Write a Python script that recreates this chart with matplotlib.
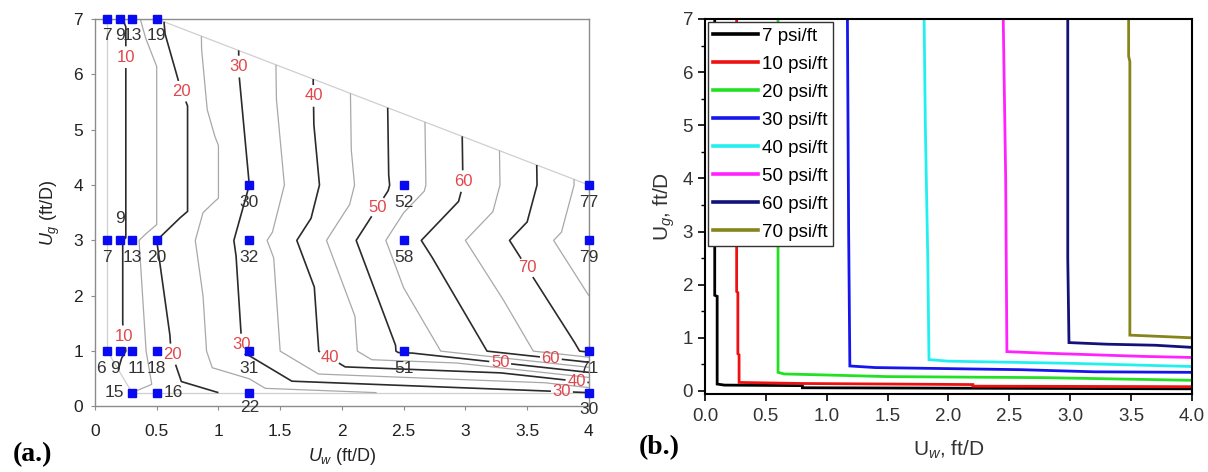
import numpy as np
import matplotlib
matplotlib.use("Agg")
import matplotlib.pyplot as plt
import matplotlib.tri as mtri
from matplotlib.ticker import MultipleLocator, FormatStrFormatter

plt.rcParams['font.family'] = ['Liberation Sans', 'DejaVu Sans']
plt.rcParams['mathtext.fontset'] = 'custom'
plt.rcParams['mathtext.rm'] = 'Liberation Sans'
plt.rcParams['mathtext.it'] = 'Liberation Sans:italic'

# ---------------- (a) measured pressure gradient, psi/ft ----------------
uw_pts = [0.1, 0.2, 0.3, 0.5,
          1.25, 2.5, 4.0,
          0.1, 0.2, 0.3, 0.5, 1.25, 2.5, 4.0,
          0.1, 0.2, 0.3, 0.5, 1.25, 2.5, 4.0,
          0.3, 0.5, 1.25, 4.0]
ug_pts = [7, 7, 7, 7,
          4, 4, 4,
          3, 3, 3, 3, 3, 3, 3,
          1, 1, 1, 1, 1, 1, 1,
          0.25, 0.25, 0.25, 0.25]
dp_pts = [7, 9, 13, 19,
          30, 52, 77,
          7, 9, 13, 20, 32, 58, 79,
          6, 9, 11, 18, 31, 51, 71,
          15, 16, 22, 30]

major_levels = [10, 20, 30, 40, 50, 60, 70]
minor_levels = [15, 25, 35, 45, 55, 65, 75]

# ---------------- (b) iso-gradient curves ----------------
grad_names = ['7 psi/ft', '10 psi/ft', '20 psi/ft', '30 psi/ft',
              '40 psi/ft', '50 psi/ft', '60 psi/ft', '70 psi/ft']
uw_7 = [0.08, 0.08, 0.10, 0.10, 0.16, 0.80, 0.80, 4.00]
ug_7 = [7.00, 1.80, 1.78, 0.13, 0.11, 0.10, 0.06, 0.04]
uw_10 = [0.26, 0.26, 0.27, 0.27, 0.28, 0.28, 0.80, 2.20, 2.20, 4.00]
ug_10 = [7.00, 1.87, 1.85, 0.70, 0.68, 0.16, 0.14, 0.12, 0.09, 0.08]
uw_20 = [0.60, 0.60, 0.65, 1.00, 1.50, 2.80, 4.00]
ug_20 = [7.00, 0.35, 0.32, 0.30, 0.27, 0.25, 0.20]
uw_30 = [1.17, 1.18, 1.19, 1.40, 2.00, 2.60, 3.20, 4.00]
ug_30 = [7.00, 3.00, 0.47, 0.44, 0.42, 0.40, 0.36, 0.35]
uw_40 = [1.80, 1.81, 1.83, 1.84, 2.00, 2.50, 3.00, 3.50, 4.00]
ug_40 = [7.00, 5.00, 2.50, 0.59, 0.56, 0.54, 0.52, 0.49, 0.46]
uw_50 = [2.45, 2.46, 2.47, 2.48, 2.80, 3.20, 3.60, 4.00]
ug_50 = [7.00, 5.50, 4.00, 0.74, 0.71, 0.68, 0.65, 0.63]
uw_60 = [2.98, 2.98, 2.99, 3.30, 3.70, 4.00]
ug_60 = [7.00, 2.50, 0.91, 0.88, 0.86, 0.82]
uw_70 = [3.48, 3.48, 3.49, 3.49, 3.70, 4.00]
ug_70 = [7.00, 6.30, 6.20, 1.05, 1.03, 1.00]

curves_uw = [uw_7, uw_10, uw_20, uw_30, uw_40, uw_50, uw_60, uw_70]
curves_ug = [ug_7, ug_10, ug_20, ug_30, ug_40, ug_50, ug_60, ug_70]
curve_colors = ['#000000', '#ee1111', '#22e022', '#1515ee',
                '#22f0f0', '#ff22ff', '#12127a', '#85851a']

fig = plt.figure(figsize=(12.08, 4.72), dpi=100)

# ================= panel (a) =================
ax = fig.add_axes([0.0786, 0.1388, 0.4089, 0.8210])
tri = mtri.Triangulation(uw_pts, ug_pts)

# outline of the measured region
xs = np.asarray(uw_pts)
ys = np.asarray(ug_pts)
for t, nb in zip(tri.triangles, tri.neighbors):
    for k in range(3):
        if nb[k] == -1:
            i, j = t[k], t[(k + 1) % 3]
            ax.plot([xs[i], xs[j]], [ys[i], ys[j]], color='#cfcfcf', lw=0.9,
                    zorder=1)

ax.tricontour(tri, dp_pts, levels=minor_levels, colors='#a8a8a8',
              linewidths=0.9, zorder=2)
cs = ax.tricontour(tri, dp_pts, levels=major_levels, colors='#2b2b2b',
                   linewidths=1.2, zorder=3)

label_spots = [(0.265, 6.31), (0.70, 5.69), (1.154, 6.14), (1.757, 5.61),
               (2.29, 3.60), (2.974, 4.07), (3.474, 2.47),
               (0.243, 1.27), (0.635, 0.95), (1.195, 1.12), (1.89, 0.85),
               (3.28, 0.76), (3.69, 0.84), (3.90, 0.47), (3.78, 0.19)]
labels = ax.clabel(cs, manual=label_spots, fmt='%d', colors='#e0474c',
                   fontsize=12, inline=True, inline_spacing=2)
for t in labels:
    t.set_rotation(0)

ax.plot(uw_pts, ug_pts, 's', color='#0a0af0', ms=6, clip_on=False, zorder=6)

# label offsets in pixels (dx, dy); default is centred below the marker
offsets = {i: (0, -17) for i in range(len(dp_pts))}
offsets[8] = (0, 22)
offsets[14] = (-6, -17)
offsets[15] = (-5, -17)
offsets[16] = (5, -17)
offsets[21] = (-18, 0)
offsets[22] = (17, 0)
offsets[23] = (0, -15)
offsets[24] = (0, -17)
for i, (x, y, v) in enumerate(zip(uw_pts, ug_pts, dp_pts)):
    dx, dy = offsets[i]
    ax.annotate(str(v), (x, y), xytext=(dx * 0.72, dy * 0.72),
                textcoords='offset points', ha='center', va='center',
                fontsize=12.5, color='#333333', zorder=7,
                annotation_clip=False)

ax.set_xlim(0, 4)
ax.set_ylim(0, 7)
ax.set_xticks([0, 0.5, 1, 1.5, 2, 2.5, 3, 3.5, 4])
ax.set_xticklabels(['0', '0.5', '1', '1.5', '2', '2.5', '3', '3.5', '4'])
ax.set_yticks(range(8))
for s in ax.spines.values():
    s.set_color('#8c8c8c')
    s.set_linewidth(1.0)
ax.tick_params(direction='out', length=3, color='#8c8c8c', labelsize=12.5,
               labelcolor='#222222')
ax.tick_params(axis='x', pad=9.5)
ax.tick_params(axis='y', pad=5.5)
ax.set_xlabel(r'$U_w$ (ft/D)', fontsize=13, color='#222222', labelpad=5)
ax.set_ylabel(r'$U_g$ (ft/D)', fontsize=13, color='#222222', labelpad=8)

# ================= panel (b) =================
bx = fig.add_axes([0.5836, 0.1653, 0.4031, 0.7945])
for u, g, c, name in zip(curves_uw, curves_ug, curve_colors, grad_names):
    bx.plot(u, g, color=c, lw=2.0, label=name, solid_joinstyle='miter')
bx.set_xlim(0, 4)
bx.set_ylim(-0.057, 7)
bx.xaxis.set_major_locator(MultipleLocator(0.5))
bx.xaxis.set_major_formatter(FormatStrFormatter('%.1f'))
bx.yaxis.set_major_locator(MultipleLocator(1))
bx.yaxis.set_minor_locator(MultipleLocator(0.5))
for s in bx.spines.values():
    s.set_color('black')
    s.set_linewidth(1.5)
bx.tick_params(which='major', direction='out', length=5, width=1.2,
               labelsize=13.5, labelcolor='#333333')
bx.tick_params(axis='x', which='major', pad=5)
bx.tick_params(which='minor', direction='out', length=3, width=1.0)
bx.set_xlabel(r'U$_{w}$, ft/D', fontsize=15, color='#333333', labelpad=10)
bx.set_ylabel(r'U$_{g}$, ft/D', fontsize=15, color='#333333', labelpad=4)
leg = bx.legend(loc='upper left', fontsize=13.5, frameon=True, fancybox=False,
                edgecolor='#333333', framealpha=1, handlelength=2.4,
                handletextpad=0.2, labelspacing=0.58, borderpad=0.3,
                borderaxespad=0.15)
leg.get_frame().set_linewidth(1.0)
for h in leg.get_lines():
    h.set_linewidth(2.6)

fig.text(0.0265, 0.036, '(a.)', fontsize=20, fontweight='bold',
         family=['Liberation Serif', 'DejaVu Serif'], ha='center', va='center')
fig.text(0.546, 0.051, '(b.)', fontsize=20, fontweight='bold',
         family=['Liberation Serif', 'DejaVu Serif'], ha='center', va='center')

fig.savefig('out.png', dpi=100)
